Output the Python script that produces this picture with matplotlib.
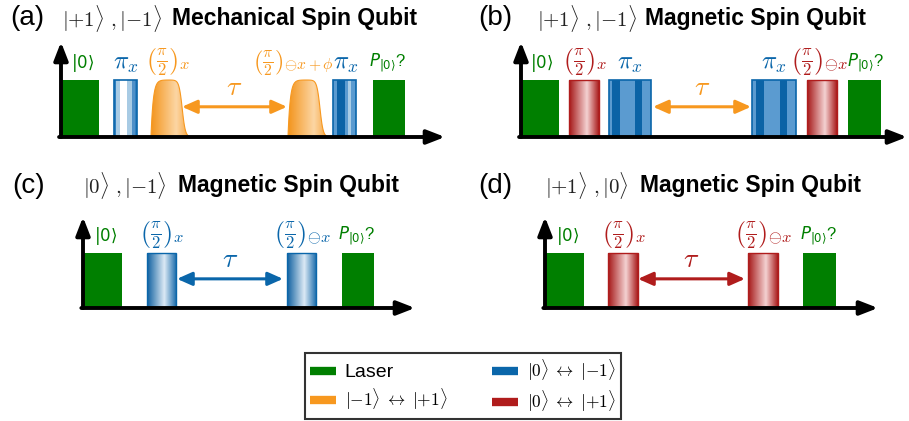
import numpy as np
import matplotlib.pyplot as plt
from matplotlib.patches import Rectangle, Polygon
from matplotlib.colors import LinearSegmentedColormap
from matplotlib.lines import Line2D

plt.rcParams['font.family'] = ['Liberation Sans', 'DejaVu Sans']
plt.rcParams['mathtext.fontset'] = 'cm'

W, H = 909, 421

GREEN = '#007f00'
BLUE = '#0a66aa'
ORANGE = '#f7981f'
RED = '#b01c1c'

HALF = r'\left(\frac{\pi}{2}\right)'

# pulse sequences, time in arbitrary units along each axis
a_kind = ['laser', 'pix1', 'orange', 'orange', 'pix2', 'laser']
a_start = [0, 53, 90, 227, 272, 312]
a_width = [38, 23, 39, 40, 23, 32]
a_labels = [r'$|0\rangle$', r'$\pi_x$', '$' + HALF + '_x$',
            '$' + HALF + r'_{\ominus x+\phi}$', r'$\pi_x$', r'$P_{|0\rangle}$?']
a_label_dx = [3, 0, -2, -15, 1, -1]
a_tau = (121, 226)

b_kind = ['laser', 'red', 'pix3', 'pix3', 'red', 'laser']
b_start = [0, 48, 88, 231, 286, 327]
b_width = [38, 30, 42, 44, 30, 33]
b_labels = [r'$|0\rangle$', '$' + HALF + '_x$', r'$\pi_x$', r'$\pi_x$',
            '$' + HALF + r'_{\ominus x}$', r'$P_{|0\rangle}$?']
b_label_dx = [2, 1, 0, 0, -2, 1]
b_tau = (132, 230)

c_kind = ['laser', 'blue', 'blue', 'laser']
c_start = [0, 64, 204, 259]
c_width = [39, 29, 29, 32]
c_labels = [r'$|0\rangle$', '$' + HALF + '_x$',
            '$' + HALF + r'_{\ominus x}$', r'$P_{|0\rangle}$?']
c_label_dx = [3, 1, 1, -1]
c_tau = (94, 200)

d_kind = ['laser', 'red', 'red', 'laser']
d_start = [0, 63, 203, 258]
d_width = [39, 30, 30, 33]
d_labels = [r'$|0\rangle$', '$' + HALF + '_x$',
            '$' + HALF + r'_{\ominus x}$', r'$P_{|0\rangle}$?']
d_label_dx = [3, 1, 1, -1]
d_tau = (93, 200)

legend_labels = ['Laser', r'$|{-}1\rangle\;\leftrightarrow\;|{+}1\rangle$',
                 r'$|0\rangle\;\leftrightarrow\;|{-}1\rangle$',
                 r'$|0\rangle\;\leftrightarrow\;|{+}1\rangle$']
legend_colors = [GREEN, ORANGE, BLUE, RED]

kind_color = {'laser': GREEN, 'pix1': BLUE, 'pix2': BLUE, 'pix3': BLUE,
              'blue': BLUE, 'red': RED, 'orange': ORANGE}

stripes = {
    'pix1': [(0.08, '#2f7fc0'), (0.17, '#a8cbe4'), (0.3, '#ffffff'), (0.25, '#a8cbe4'),
             (0.12, '#4f90c8'), (0.08, '#2f7fc0')],
    'pix2': [(0.17, '#5b9bd0'), (0.33, '#0b63a6'), (0.17, '#5b9bd0'),
             (0.13, '#a9cde6'), (0.2, '#5b9bd0')],
    'pix3': [(0.08, '#5b9bd0'), (0.19, '#0b63a6'), (0.36, '#5b9bd0'),
             (0.16, '#0b63a6'), (0.21, '#5b9bd0')],
}

cyl_blue = LinearSegmentedColormap.from_list(
    'cb', [(0, '#0d5f9f'), (0.6, '#dceaf5'), (1, '#2170ae')])
cyl_red = LinearSegmentedColormap.from_list(
    'cr', [(0, '#a51616'), (0.6, '#f4d2d2'), (1, '#a91b1b')])
cyl_orange = LinearSegmentedColormap.from_list(
    'co', [(0, '#f3941c'), (0.65, '#fcd6a4'), (1, '#f6a33c')])


def fig_box(l, t, r, b):
    return [l / W, 1 - b / H, (r - l) / W, (b - t) / H]


def draw_panel(box, kinds, starts, widths, labels, label_dx, tau, tau_color, top):
    l, t, r, b = box
    ax = fig.add_axes(fig_box(l, t, r, b))
    ax.set_xlim(0, r - l)
    ax.set_ylim(0, b - t)
    ax.axis('off')
    g = np.linspace(0, 1, 256)[None, :]
    for k, x0, w, lab, dx in zip(kinds, starts, widths, labels, label_dx):
        col = kind_color[k]
        if k == 'laser':
            ax.add_patch(Rectangle((x0, 0), w, top, color=col, lw=0))
        elif k in stripes:
            xs = x0
            for f, c in stripes[k]:
                ax.add_patch(Rectangle((xs, 0), f * w, top, color=c, lw=0))
                xs += f * w
            ax.add_patch(Rectangle((x0, 0), w, top, fill=False, ec=col, lw=1.2))
        elif k == 'orange':
            xx = np.linspace(x0, x0 + w, 200)
            yy = top * (1 - np.exp(-(xx - x0) / 2.2)) / (1 + np.exp((xx - (x0 + 0.8 * w)) / 1.6))
            poly = Polygon(np.column_stack([np.r_[xx, x0 + w, x0], np.r_[yy, 0, 0]]),
                           closed=True, fc='none', ec=col, lw=0.8)
            ax.add_patch(poly)
            im = ax.imshow(g, cmap=cyl_orange, extent=(x0, x0 + w, 0, top), aspect='auto')
            im.set_clip_path(poly)
        else:
            cm = cyl_blue if k == 'blue' else cyl_red
            ax.imshow(g, cmap=cm, extent=(x0, x0 + w, 0, top), aspect='auto')
            ax.add_patch(Rectangle((x0, 0), w, top, fill=False, ec=col, lw=1.0))
        xc = x0 + w / 2 + dx
        if k == 'laser':
            ax.text(xc, top + 6, lab, color=col, ha='center', va='bottom',
                    fontsize=12, math_fontfamily='dejavusans')
        elif lab.startswith(r'$\pi'):
            ax.text(xc, top + 5, lab, color=col, ha='center', va='bottom', fontsize=18)
        else:
            fs = 16 if 'phi' in lab else 17
            ax.text(xc, top + 2, lab, color=col, ha='center', va='bottom', fontsize=fs)
    ax.set_xlim(0, r - l)
    ax.set_ylim(0, b - t)
    ax.annotate('', xy=(tau[0], 0.53 * top), xytext=(tau[1], 0.53 * top),
                arrowprops=dict(arrowstyle='<|-|>,head_length=0.9,head_width=0.4',
                                color=tau_color, lw=2.2, shrinkA=0, shrinkB=0))
    ax.text((tau[0] + tau[1]) / 2, 0.53 * top + 6, r'$\tau$', color=tau_color,
            ha='center', va='bottom', fontsize=20)
    kw = dict(arrowstyle='-|>,head_length=0.9,head_width=0.35', color='black', lw=2.8,
              shrinkA=0, shrinkB=0, mutation_scale=12)
    ax.annotate('', xy=(1, 0), xytext=(-0.005, 0), xycoords='axes fraction', arrowprops=kw,
                annotation_clip=False)
    ax.annotate('', xy=(0, 1), xytext=(0, 0), xycoords='axes fraction', arrowprops=kw,
                annotation_clip=False)
    return ax


fig = plt.figure(figsize=(W / 100, H / 100), dpi=100)

draw_panel((61, 42, 445, 137), a_kind, a_start, a_width, a_labels, a_label_dx, a_tau, ORANGE, 57)
draw_panel((521, 42, 907, 137), b_kind, b_start, b_width, b_labels, b_label_dx, b_tau, ORANGE, 57)
draw_panel((83, 217, 415, 308), c_kind, c_start, c_width, c_labels, c_label_dx, c_tau, BLUE, 55)
draw_panel((545, 217, 878, 308), d_kind, d_start, d_width, d_labels, d_label_dx, d_tau, RED, 55)

titles = [('(a)', 10, 18, r'$|{+}1\rangle\ ,|{-}1\rangle$', 62, 'Mechanical Spin Qubit', 172),
          ('(b)', 478, 18, r'$|{+}1\rangle\ ,|{-}1\rangle$', 537, 'Magnetic Spin Qubit', 645),
          ('(c)', 12, 186, r'$|0\rangle\ ,|{-}1\rangle$', 83, 'Magnetic Spin Qubit', 178),
          ('(d)', 478, 186, r'$|{+}1\rangle\ ,|0\rangle$', 545, 'Magnetic Spin Qubit', 640)]
for lab, x, y, ket, xk, name, xn in titles:
    fig.text(x / W, 1 - y / H, lab, fontsize=20, va='center', ha='left')
    fig.text(xk / W, 1 - y / H, ket, fontsize=15, va='center', ha='left', color='#222222')
    fig.text(xn / W, 1 - y / H, name, fontsize=16.5, fontweight='bold', va='center', ha='left')

handles = [Line2D([], [], color=c, lw=6, solid_capstyle='butt') for c in legend_colors]
leg = fig.legend(handles, legend_labels, ncols=2, loc='upper center',
                 bbox_to_anchor=(463 / W, 1 - 353 / H), borderaxespad=0, fontsize=12.5,
                 frameon=True, fancybox=False, edgecolor='black', handlelength=1.5,
                 columnspacing=2.6, borderpad=0.3, labelspacing=0.3, handletextpad=0.5)
leg.get_texts()[0].set_fontsize(14)
leg.get_frame().set_linewidth(1.5)

fig.savefig('out.png', dpi=100)
